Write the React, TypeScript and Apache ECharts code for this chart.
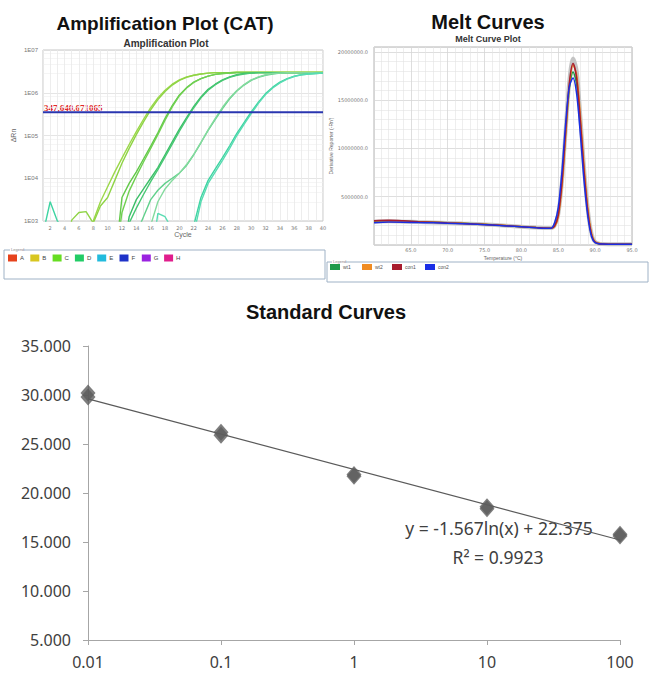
import React, { useEffect, useRef } from "react";
import * as echarts from "echarts";

// ---------- Amplification plot (log10 ΔRn per cycle) ----------
const cycles = [1,2,3,4,5,6,7,8,9,10,11,12,13,14,15,16,17,18,19,20,21,22,23,24,25,26,27,28,29,30,31,32,33,34,35,36,37,38,39,40];
const ampG1a = [2,2,2,2,2,2,2.6,3.0,3.45,3.8,4.15,4.47,4.79,5.09,5.38,5.65,5.88,6.06,6.2,6.3,6.37,6.41,6.44,6.46,6.47,6.47,6.47,6.48,6.48,6.48,6.48,6.48,6.48,6.48,6.48,6.48,6.48,6.48,6.48,6.48];
const ampG1b = [2,2,2,2,3.02,3.2,3.22,2.95,3.35,3.55,3.95,4.35,4.7,5.02,5.32,5.6,5.84,6.03,6.18,6.29,6.36,6.41,6.44,6.46,6.47,6.47,6.47,6.48,6.48,6.48,6.48,6.48,6.48,6.48,6.48,6.48,6.48,6.48,6.48,6.48];
const ampG2a = [2,2,2,2,2,2,2,2,2,2,2,3.55,3.88,4.15,4.45,4.75,5.06,5.4,5.7,5.95,6.12,6.25,6.33,6.39,6.43,6.45,6.46,6.47,6.47,6.47,6.47,6.47,6.47,6.47,6.47,6.47,6.47,6.47,6.47,6.47];
const ampG2b = [2,2,2,2,2,2,2,2,2,2,2,3.2,3.7,4.05,4.38,4.7,5.02,5.36,5.67,5.93,6.11,6.24,6.33,6.39,6.43,6.45,6.46,6.47,6.47,6.47,6.47,6.47,6.47,6.47,6.47,6.47,6.47,6.47,6.47,6.47];
const ampG3a = [2,2,2,2,2,2,2,2,2,2,2,2,3.1,3.5,3.75,4.0,4.25,4.55,4.85,5.15,5.42,5.68,5.9,6.08,6.2,6.3,6.37,6.42,6.45,6.46,6.47,6.47,6.47,6.47,6.47,6.47,6.47,6.47,6.47,6.47];
const ampG3b = [2,2,2,2,2,2,2,2,2,2,2,2,2.95,3.3,3.62,3.92,4.2,4.5,4.8,5.1,5.38,5.65,5.88,6.06,6.19,6.29,6.36,6.41,6.44,6.46,6.47,6.47,6.47,6.47,6.47,6.47,6.47,6.47,6.47,6.47];
const ampG4a = [2,2,2,2,2,2,2,2,2,2,2,2,2,2.7,3.1,3.5,3.72,3.88,4.0,4.12,4.3,4.55,4.83,5.12,5.38,5.63,5.86,6.04,6.18,6.29,6.36,6.41,6.44,6.46,6.47,6.47,6.47,6.47,6.47,6.47];
const ampG4b = [2,2,2,2,2,2,2,2,2,2,2,2,2,2,2,2.9,3.45,3.75,3.95,4.12,4.32,4.56,4.84,5.13,5.4,5.66,5.88,6.05,6.19,6.3,6.37,6.42,6.45,6.46,6.47,6.47,6.47,6.47,6.47,6.47];
const ampG5a = [2.7,3.45,3.0,2.8,2.6,2,2,2,2,2,2,2,2,2,2,2,2,2,2,2,2,2.9,3.55,3.95,4.22,4.48,4.76,5.05,5.3,5.55,5.78,5.98,6.13,6.25,6.33,6.39,6.42,6.44,6.45,6.46];
const ampG5b = [2,2,2,2,2,2,2,2,2,2,2,2,2,2,2,2,3.18,3.1,2.8,2,2,2.7,3.45,3.88,4.15,4.42,4.7,5.0,5.26,5.51,5.75,5.96,6.11,6.23,6.32,6.38,6.42,6.44,6.45,6.46];
const ampCurves = [ampG1a, ampG1b, ampG2a, ampG2b, ampG3a, ampG3b, ampG4a, ampG4b, ampG5a, ampG5b];
const ampColors = ["#9cd84a", "#8fd446", "#62c948", "#70d052", "#3cbf68", "#48c874", "#62d08c", "#84da9e", "#3ed4a2", "#58dcb2"];
const threshold = 347640.671065;
const ampLegendNames = ["A", "B", "C", "D", "E", "F", "G", "H"];
const ampLegendColors = ["#e6421c", "#d8c620", "#66dd22", "#22cc66", "#22bbdd", "#1e32c8", "#9a22e0", "#e01e8c"];

// ---------- Melt curves (derivative reporter, millions) ----------
const meltTemps = [60,62,64,66,68,70,72,74,76,78,80,82,83,84,84.5,85,85.5,86,86.5,87,87.5,88,88.5,89,89.5,90,91,93,95];
const meltWt1 = [2.45,2.5,2.45,2.4,2.35,2.3,2.25,2.2,2.1,2.0,1.9,1.8,1.76,1.75,2.0,3.2,6.6,11.6,16.2,17.9,16.6,12.4,7.4,3.4,1.1,0.3,0.1,0.08,0.08];
const meltWt2 = [2.35,2.42,2.4,2.36,2.33,2.3,2.24,2.18,2.1,2.02,1.92,1.82,1.78,1.76,1.9,2.9,6.0,11.2,16.4,18.6,17.6,13.4,8.2,3.9,1.3,0.35,0.12,0.08,0.08];
const meltCon1 = [2.5,2.55,2.5,2.42,2.36,2.28,2.22,2.16,2.08,2.0,1.9,1.8,1.76,1.74,1.95,3.1,6.5,11.8,16.8,18.8,17.2,12.8,7.6,3.5,1.1,0.3,0.1,0.08,0.08];
const meltCon2 = [2.3,2.38,2.36,2.32,2.3,2.26,2.2,2.14,2.06,1.98,1.88,1.78,1.74,1.74,2.3,3.9,7.6,12.6,16.4,17.3,15.6,11.4,6.6,3.0,0.9,0.25,0.1,0.08,0.08];
const meltBand = [2.4,2.45,2.42,2.38,2.34,2.29,2.23,2.17,2.09,2.0,1.9,1.8,1.76,1.75,2.0,3.2,6.6,11.9,17.0,19.3,18.0,13.2,7.9,3.7,1.2,0.32,0.1,0.08,0.08];
const meltNames = ["wt1", "wt2", "con1", "con2"];
const meltColors = ["#1f9a4a", "#f08c22", "#a81c2e", "#1a2ee6"];
const meltSeries = [meltWt1, meltWt2, meltCon1, meltCon2];

// ---------- Standard curve ----------
const stdX = [0.01, 0.01, 0.1, 0.1, 1, 1, 10, 10, 100, 100];
const stdY = [30.2, 29.8, 26.2, 25.9, 21.9, 21.7, 18.6, 18.4, 15.8, 15.6];
const trendX = [0.01, 100];
const trendY = [29.6, 15.2];
const stdXTicks = ["0.01", "0.1", "1", "10", "100"];
const equationText = "y = -1.567ln(x) + 22.375";
const r2Text = "R² = 0.9923";

export default function App() {
  const ref = useRef<HTMLDivElement>(null);
  useEffect(() => {
    if (!ref.current) return;
    const chart = echarts.init(ref.current, null, { renderer: "svg" });
    const tiny = { fontSize: 5, color: "#777", fontFamily: "DejaVu Sans" };

    const ampSeriesList: any[] = ampCurves.map((g, k) => ({
      type: "line",
      xAxisIndex: 0,
      yAxisIndex: 0,
      data: cycles.map((c, i) => [c, Math.pow(10, g[i])]),
      showSymbol: false,
      symbol: "none",
      clip: true,
      lineStyle: { color: ampColors[k], width: 1.4 },
      silent: true,
      z: 3,
    }));
    ampSeriesList.push({
      type: "line",
      xAxisIndex: 0,
      yAxisIndex: 0,
      data: [[1, threshold], [40, threshold]],
      showSymbol: false,
      symbol: "none",
      lineStyle: { color: "#2a36b0", width: 2 },
      z: 4,
    });

    const meltList: any[] = [
      {
        type: "line",
        xAxisIndex: 1,
        yAxisIndex: 1,
        data: meltTemps.map((t, i) => [t, meltBand[i] * 1e6]),
        showSymbol: false,
        smooth: 0.3,
        lineStyle: { color: "#c4c4c4", width: 4 },
        z: 2,
      },
      ...meltSeries.map((v, k) => ({
        type: "line",
        xAxisIndex: 1,
        yAxisIndex: 1,
        data: meltTemps.map((t, i) => [t, v[i] * 1e6]),
        showSymbol: false,
        smooth: 0.3,
        lineStyle: { color: meltColors[k], width: 1.5 },
        z: 3,
      })),
    ];

    const graphic: any[] = [
      { type: "text", x: 165, y: 23, style: { text: "Amplification Plot (CAT)", fontSize: 19, fontWeight: "bold", fontFamily: "Liberation Sans", fill: "#111", textAlign: "center", textVerticalAlign: "middle" } },
      { type: "text", x: 166, y: 43, style: { text: "Amplification Plot", fontSize: 10, fontWeight: "bold", fontFamily: "Liberation Sans", fill: "#333", textAlign: "center", textVerticalAlign: "middle" } },
      { type: "text", x: 488, y: 22, style: { text: "Melt Curves", fontSize: 20, fontWeight: "bold", fontFamily: "Liberation Sans", fill: "#111", textAlign: "center", textVerticalAlign: "middle" } },
      { type: "text", x: 488, y: 39, style: { text: "Melt Curve Plot", fontSize: 9, fontWeight: "bold", fontFamily: "Liberation Sans", fill: "#333", textAlign: "center", textVerticalAlign: "middle" } },
      { type: "text", x: 326, y: 312, style: { text: "Standard Curves", fontSize: 20, fontWeight: "bold", fontFamily: "Liberation Sans", fill: "#111", textAlign: "center", textVerticalAlign: "middle" } },
      { type: "text", x: 44, y: 108, style: { text: "347,640.671065", fontSize: 9, fontWeight: "bold", fontFamily: "Liberation Serif", fill: "#e02828", textAlign: "left", textVerticalAlign: "middle" } },
      { type: "text", x: 499, y: 528, style: { text: equationText, fontSize: 17.5, fontFamily: "Noto Sans", fill: "#404040", textAlign: "center", textVerticalAlign: "middle" } },
      { type: "text", x: 498, y: 557, style: { text: r2Text, fontSize: 17.5, fontFamily: "Noto Sans", fill: "#404040", textAlign: "center", textVerticalAlign: "middle" } },
      // legend boxes
      { type: "rect", shape: { x: 4, y: 250, width: 321, height: 29 }, style: { fill: "none", stroke: "#9fb2c6", lineWidth: 1 } },
      { type: "rect", shape: { x: 10, y: 247, width: 14, height: 5 }, style: { fill: "#fff" } },
      { type: "text", x: 11, y: 249.5, style: { text: "Legend", fontSize: 4, fill: "#888", textVerticalAlign: "middle" } },
      { type: "rect", shape: { x: 327, y: 262, width: 321, height: 20 }, style: { fill: "none", stroke: "#9fb2c6", lineWidth: 1 } },
      { type: "rect", shape: { x: 332, y: 259, width: 14, height: 5 }, style: { fill: "#fff" } },
      { type: "text", x: 333, y: 261.5, style: { text: "Legend", fontSize: 4, fill: "#888", textVerticalAlign: "middle" } },
    ];
    ampLegendNames.forEach((n, i) => {
      const x0 = 8 + i * 22.3;
      graphic.push({ type: "rect", shape: { x: x0, y: 254.5, width: 9, height: 7 }, style: { fill: ampLegendColors[i] } });
      graphic.push({ type: "text", x: x0 + 12, y: 258, style: { text: n, fontSize: 6, fill: "#444", textVerticalAlign: "middle" } });
    });
    const meltLegendX = [330, 362, 392, 425];
    meltNames.forEach((n, i) => {
      graphic.push({ type: "rect", shape: { x: meltLegendX[i], y: 264, width: 10, height: 6 }, style: { fill: meltColors[i] } });
      graphic.push({ type: "text", x: meltLegendX[i] + 13, y: 267, style: { text: n, fontSize: 5, fill: "#555", textVerticalAlign: "middle" } });
    });

    chart.setOption({
      animation: false,
      backgroundColor: "#fff",
      grid: [
        { left: 43, top: 50, width: 280, height: 171, show: true, borderColor: "#c6c6c6", borderWidth: 1, outerBoundsMode: "none" },
        { left: 374, top: 47, width: 258, height: 198, show: true, borderColor: "#b4b4b4", borderWidth: 1, outerBoundsMode: "none" },
        { left: 88, top: 346, width: 532, height: 294, outerBoundsMode: "none" },
      ],
      xAxis: [
        {
          gridIndex: 0, type: "value", min: 1, max: 40, interval: 1,
          name: "Cycle", nameLocation: "middle", nameGap: 10, nameTextStyle: { fontSize: 7, color: "#666" },
          axisLine: { show: false }, axisTick: { show: false },
          axisLabel: { ...tiny, margin: 4, formatter: (v: number) => (v % 2 === 0 ? String(v) : "") },
          splitLine: { show: true, lineStyle: { color: "#e9e9e9", width: 0.8 } },
        },
        {
          gridIndex: 1, type: "value", min: 60, max: 95, interval: 5,
          name: "Temperature (°C)", nameLocation: "middle", nameGap: 10, nameTextStyle: { fontSize: 5, color: "#666" },
          axisLine: { show: false }, axisTick: { show: false },
          axisLabel: { ...tiny, margin: 2, showMinLabel: false, formatter: (v: number) => v.toFixed(1) },
          splitLine: { show: true, lineStyle: { color: "#d6d6d6", width: 0.8 } },
          minorTick: { show: false, splitNumber: 5 },
          minorSplitLine: { show: true, lineStyle: { color: "#e2e2e2", width: 0.6 } },
        },
        {
          gridIndex: 2, type: "log", logBase: 10, min: 0.01, max: 100,
          axisLine: { show: true, lineStyle: { color: "#a6a6a6", width: 1 } },
          axisTick: { show: true, length: 5, lineStyle: { color: "#a6a6a6" } },
          axisLabel: {
            fontSize: 16, color: "#404040", margin: 14, fontFamily: "Noto Sans",
            formatter: (v: number) => {
              const idx = Math.round(Math.log10(v)) + 2;
              return stdXTicks[idx] ?? "";
            },
          },
          splitLine: { show: false }, minorTick: { show: false },
        },
      ],
      yAxis: [
        {
          gridIndex: 0, type: "log", logBase: 10, min: 1000, max: 1e7,
          name: "ΔRn", nameLocation: "middle", nameGap: 26, nameRotate: 90, nameTextStyle: { fontSize: 7, color: "#666" },
          axisLine: { show: false }, axisTick: { show: false },
          axisLabel: { fontSize: 6, color: "#777", margin: 5, formatter: (v: number) => "1E0" + Math.round(Math.log10(v)) },
          splitLine: { show: true, lineStyle: { color: "#dedede", width: 0.8 } },
          minorTick: { show: false, splitNumber: 5 },
          minorSplitLine: { show: true, lineStyle: { color: "#efefef", width: 0.6 } },
        },
        {
          gridIndex: 1, type: "value", min: 0, max: 20.5e6, interval: 5e6,
          name: "Derivative Reporter (-Rn')", nameLocation: "middle", nameGap: 38, nameRotate: 90, nameTextStyle: { fontSize: 5, color: "#666" },
          axisLine: { show: false }, axisTick: { show: false },
          axisLabel: { ...tiny, margin: 6, showMinLabel: false, showMaxLabel: false, formatter: (v: number) => v.toFixed(1) },
          splitLine: { show: true, lineStyle: { color: "#d6d6d6", width: 0.8 } },
          minorTick: { show: false, splitNumber: 5 },
          minorSplitLine: { show: true, lineStyle: { color: "#e2e2e2", width: 0.6 } },
        },
        {
          gridIndex: 2, type: "value", min: 5, max: 35, interval: 5,
          axisLine: { show: true, lineStyle: { color: "#a6a6a6", width: 1 } },
          axisTick: { show: true, length: 5, lineStyle: { color: "#a6a6a6" } },
          axisLabel: { fontSize: 16, color: "#404040", margin: 17, fontFamily: "Noto Sans", formatter: (v: number) => v.toFixed(3) },
          splitLine: { show: false },
        },
      ],
      series: [
        ...ampSeriesList,
        ...meltList,
        {
          type: "line",
          xAxisIndex: 2,
          yAxisIndex: 2,
          data: trendX.map((x, i) => [x, trendY[i]]),
          showSymbol: false,
          lineStyle: { color: "#5a5a5a", width: 1.2 },
          z: 2,
        },
        {
          type: "scatter",
          xAxisIndex: 2,
          yAxisIndex: 2,
          data: stdX.map((x, i) => [x, stdY[i]]),
          symbol: "diamond",
          symbolSize: [15, 17],
          itemStyle: { color: "#5c5c5c" },
          z: 3,
        },
      ],
      graphic,
    });
    return () => chart.dispose();
  }, []);
  return (
    <div
      ref={ref}
      style={{ position: "absolute", left: 0, top: 0, width: 658, height: 677, background: "#fff" }}
    />
  );
}
